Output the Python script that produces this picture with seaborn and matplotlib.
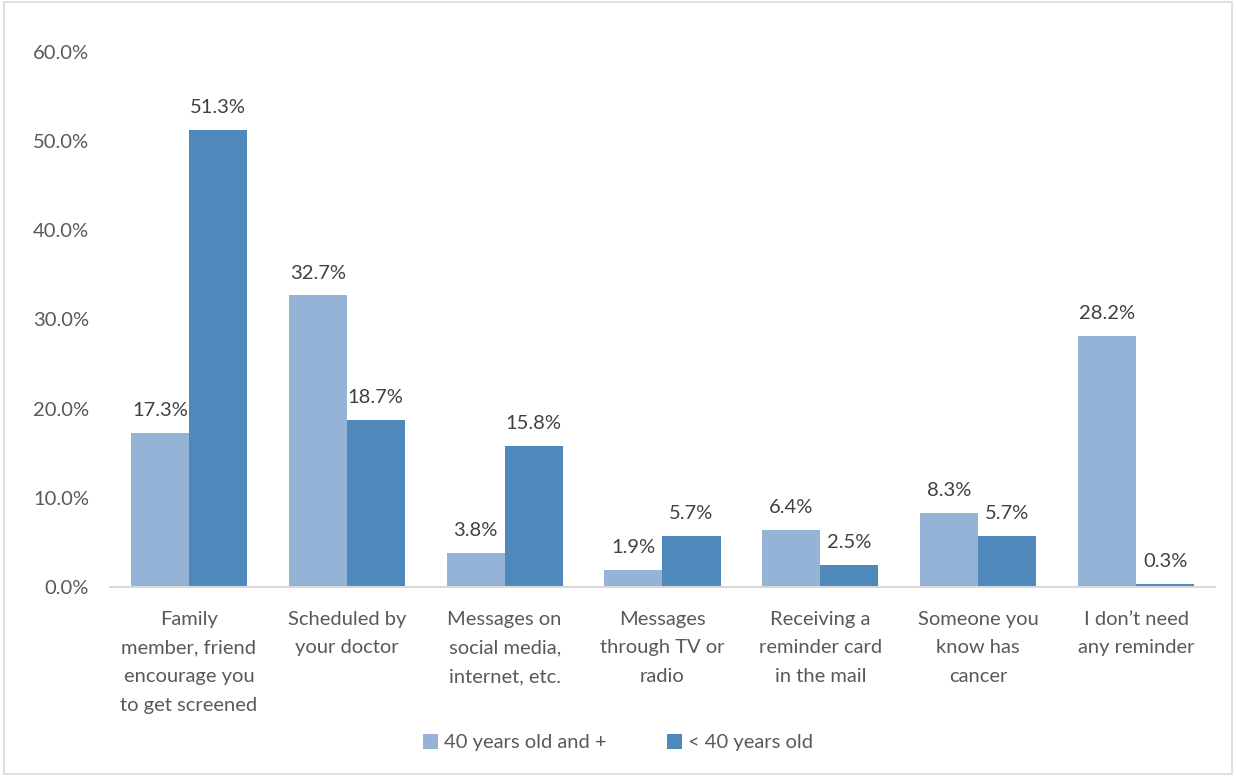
import matplotlib
matplotlib.use("Agg")
import matplotlib.pyplot as plt
import seaborn as sns
import pandas as pd
from matplotlib.patches import Patch

categories = [
    "Family\nmember, friend\nencourage you\nto get screened",
    "Scheduled by\nyour doctor",
    "Messages on\nsocial media,\ninternet, etc.",
    "Messages\nthrough TV or\nradio",
    "Receiving a\nreminder card\nin the mail",
    "Someone you\nknow has\ncancer",
    "I don\u2019t need\nany reminder",
]
series_names = ["40 years old and +", "< 40 years old"]
values_40_plus = [17.3, 32.7, 3.8, 1.9, 6.4, 8.3, 28.2]
values_under_40 = [51.3, 18.7, 15.8, 5.7, 2.5, 5.7, 0.3]
yticks = [0, 10, 20, 30, 40, 50, 60]

df = pd.DataFrame({
    "category": categories * 2,
    "series": [series_names[0]] * len(categories) + [series_names[1]] * len(categories),
    "value": values_40_plus + values_under_40,
})

sns.set_theme(style="white")
plt.rcParams['font.family'] = ['Lato', 'DejaVu Sans']

FS = 14.5
colors = ["#95B3D7", "#4F88BB"]
fig = plt.figure(figsize=(12.36, 7.76), dpi=100)
ax = fig.add_axes([0.089, 0.2436, 0.894, 0.6894])

sns.barplot(data=df, x="category", y="value", hue="series", palette=colors,
            width=0.735, saturation=1, ax=ax, legend=False, linewidth=0)

for cont in ax.containers:
    ax.bar_label(cont, labels=[f"{v:.1f}%" for v in cont.datavalues],
                 padding=10, fontsize=FS, color="#404040")

ax.set_ylim(0, 60)
ax.set_xlim(-0.5, len(categories) - 0.5)
ax.set_yticks(yticks)
ax.set_yticklabels([f"{t:.1f}%" for t in yticks], fontsize=FS, color="#595959")
ax.tick_params(axis="y", length=0, pad=15)
ax.tick_params(axis="x", length=0, pad=17, labelsize=FS, labelcolor="#595959")
for lbl in ax.get_xticklabels():
    lbl.set_linespacing(1.85)
ax.set_xlabel("")
ax.set_ylabel("")
for s in ["left", "right", "top"]:
    ax.spines[s].set_visible(False)
ax.spines["bottom"].set_color("#D9D9D9")
ax.spines["bottom"].set_linewidth(1.5)

handles = [Patch(facecolor=c, edgecolor="none") for c in colors]
fig.legend(handles, series_names, loc="center", bbox_to_anchor=(0.5, 0.043),
           ncol=2, frameon=False, fontsize=FS, labelcolor="#595959",
           handlelength=0.75, handleheight=0.75, handletextpad=0.3, columnspacing=3)

border = plt.Rectangle((0.003, 0.003), 0.994, 0.994, transform=fig.transFigure,
                       fill=False, edgecolor="#D9D9D9", linewidth=1.2)
fig.patches.append(border)

fig.savefig("out.png", dpi=100, facecolor="white")
